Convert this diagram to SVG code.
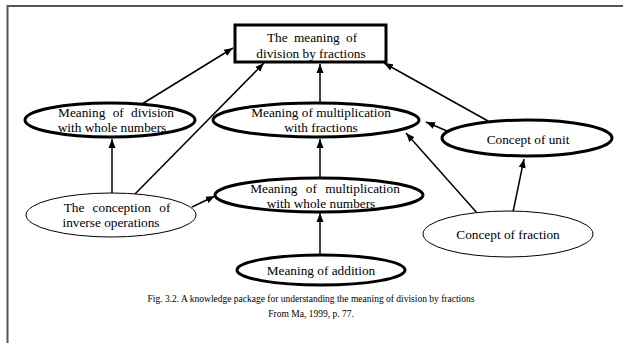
<svg xmlns="http://www.w3.org/2000/svg" width="623" height="343" viewBox="0 0 623 343">
<style>
text{font-family:'Liberation Serif','Times New Roman','DejaVu Serif',serif;font-size:13.3px;fill:#000;text-anchor:middle}
.cap{font-size:9.5px}
.thick{fill:#fff;stroke:#000;stroke-width:3}
.thin{fill:#fff;stroke:#000;stroke-width:1}
.edge{stroke:#000;stroke-width:1.5;fill:none;marker-end:url(#ah)}
.frame{stroke:#555;stroke-width:2;fill:none}
</style>
<defs>
<marker id="ah" markerUnits="userSpaceOnUse" markerWidth="10" markerHeight="8" refX="9" refY="4" orient="auto">
<path d="M0,0.5 L9,4 L0,7.5 Z" fill="#000"/>
</marker>
</defs>
<rect width="623" height="343" fill="#fff"/>
<path class="frame" d="M7.5,343 V6 H623"/>
<g id="edges">
<line class="edge" x1="142" y1="104" x2="233" y2="48"/>
<line class="edge" x1="135" y1="194" x2="264" y2="63"/>
<line class="edge" x1="320" y1="102" x2="320" y2="64"/>
<line class="edge" x1="488" y1="121" x2="384" y2="63"/>
<line class="edge" x1="447" y1="131" x2="426" y2="122"/>
<line class="edge" x1="478" y1="214" x2="406" y2="133"/>
<line class="edge" x1="513" y1="212" x2="524" y2="159"/>
<line class="edge" x1="192" y1="207" x2="215" y2="196"/>
<line class="edge" x1="112" y1="194" x2="112" y2="139"/>
<line class="edge" x1="320" y1="177" x2="320" y2="139"/>
<line class="edge" x1="320" y1="256" x2="320" y2="213"/>
</g>
<g id="goal">
<rect class="thick" x="235" y="25" width="151" height="37"/>
<text x="312" y="42" word-spacing="3">The meaning of</text>
<text x="311" y="58">division by fractions</text>
</g>
<g id="divWhole">
<ellipse class="thick" cx="110" cy="120" rx="85" ry="17"/>
<text x="116" y="117" word-spacing="4">Meaning of division</text>
<text x="112" y="132">with whole numbers</text>
</g>
<g id="multFrac">
<ellipse class="thick" cx="316" cy="120" rx="103" ry="17"/>
<text x="321" y="117">Meaning of multiplication</text>
<text x="321" y="132">with fractions</text>
</g>
<g id="unit">
<ellipse class="thick" cx="527" cy="138" rx="85" ry="18"/>
<text x="528" y="144">Concept of unit</text>
</g>
<g id="inverse">
<ellipse class="thin" cx="111" cy="215" rx="85" ry="22"/>
<text x="117" y="212" word-spacing="5">The conception of</text>
<text x="111" y="227">inverse operations</text>
</g>
<g id="multWhole">
<ellipse class="thick" cx="319" cy="195" rx="104" ry="17"/>
<text x="325" y="193" word-spacing="5">Meaning of multiplication</text>
<text x="321" y="208">with whole numbers</text>
</g>
<g id="fraction">
<ellipse class="thin" cx="508" cy="234" rx="85" ry="23"/>
<text x="508" y="239">Concept of fraction</text>
</g>
<g id="addition">
<ellipse class="thick" cx="321" cy="270" rx="84" ry="15"/>
<text x="321" y="275">Meaning of addition</text>
</g>
<g id="caption">
<text class="cap" x="311" y="302">Fig. 3.2. A knowledge package for understanding the meaning of division by fractions</text>
<text class="cap" x="311" y="317">From Ma, 1999, p. 77.</text>
</g>
</svg>
